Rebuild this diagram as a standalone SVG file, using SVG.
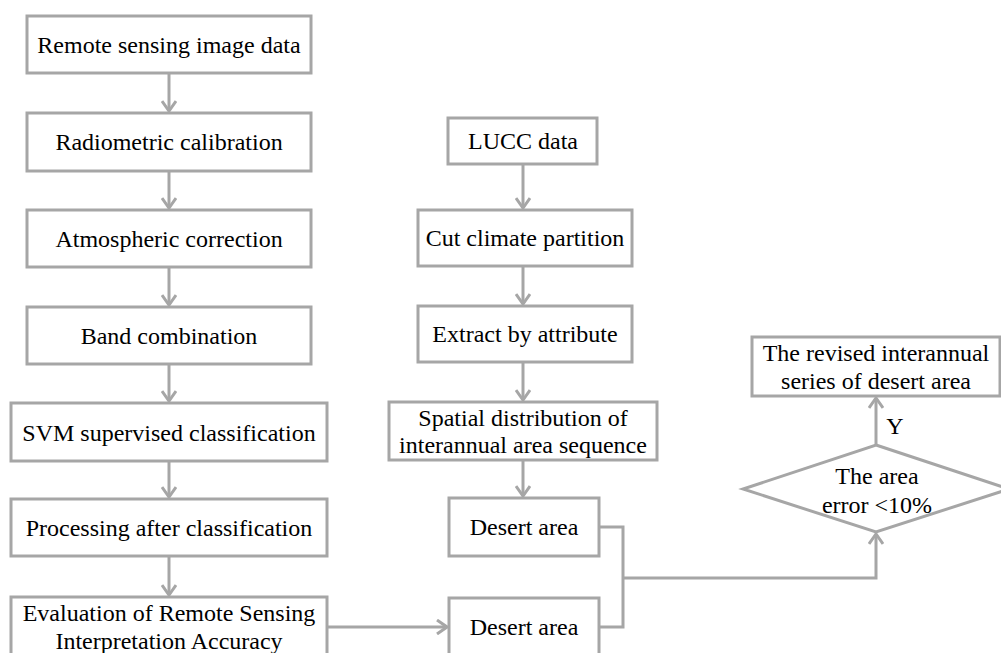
<svg xmlns="http://www.w3.org/2000/svg" width="1001" height="653" viewBox="0 0 1001 653">
<style>
.box{fill:#fff;stroke:#a6a6a6;stroke-width:3}
.t{font-family:"Liberation Serif","Times New Roman",serif;font-size:24px;fill:#000;text-anchor:middle}
.c{fill:none;stroke:#a6a6a6;stroke-width:3}
</style>
<defs>
<marker id="ah" viewBox="0 0 12 16" refX="11" refY="8" markerWidth="12" markerHeight="16" markerUnits="userSpaceOnUse" orient="auto">
<path d="M1,1 L11,8 L1,15" fill="none" stroke="#a6a6a6" stroke-width="3"/>
</marker>
</defs>
<rect width="1001" height="653" fill="#fff"/>
<g id="connectors">
<line class="c" x1="169" y1="73" x2="169" y2="111" marker-end="url(#ah)"/>
<line class="c" x1="169" y1="171" x2="169" y2="208" marker-end="url(#ah)"/>
<line class="c" x1="169" y1="267" x2="169" y2="305" marker-end="url(#ah)"/>
<line class="c" x1="169" y1="364" x2="169" y2="401" marker-end="url(#ah)"/>
<line class="c" x1="169" y1="461" x2="169" y2="497" marker-end="url(#ah)"/>
<line class="c" x1="169" y1="556" x2="169" y2="595" marker-end="url(#ah)"/>
<line class="c" x1="523" y1="164" x2="523" y2="208" marker-end="url(#ah)"/>
<line class="c" x1="523" y1="266" x2="523" y2="304" marker-end="url(#ah)"/>
<line class="c" x1="523" y1="362" x2="523" y2="400" marker-end="url(#ah)"/>
<line class="c" x1="523" y1="460" x2="523" y2="496" marker-end="url(#ah)"/>
<line class="c" x1="327" y1="627" x2="447" y2="627" marker-end="url(#ah)"/>
<polyline class="c" points="599,527 623,527 623,627 599,627"/>
<polyline class="c" points="623,578 876,578 876,534" marker-end="url(#ah)"/>
<line class="c" x1="876" y1="445" x2="876" y2="398" marker-end="url(#ah)"/>
<text class="t" x="895" y="434">Y</text>
</g>
<g id="n1"><rect class="box" x="27" y="16" width="284" height="57"/><text class="t" x="169" y="53">Remote sensing image data</text></g>
<g id="n2"><rect class="box" x="27" y="113" width="284" height="58"/><text class="t" x="169" y="150">Radiometric calibration</text></g>
<g id="n3"><rect class="box" x="27" y="210" width="284" height="57"/><text class="t" x="169" y="247">Atmospheric correction</text></g>
<g id="n4"><rect class="box" x="27" y="307" width="284" height="57"/><text class="t" x="169" y="344">Band combination</text></g>
<g id="n5"><rect class="box" x="11" y="403" width="316" height="58"/><text class="t" x="169" y="441">SVM supervised classification</text></g>
<g id="n6"><rect class="box" x="11" y="499" width="316" height="57"/><text class="t" x="169" y="536">Processing after classification</text></g>
<g id="n7"><rect class="box" x="11" y="597" width="316" height="70"/><text class="t" x="169" y="621">Evaluation of Remote Sensing</text><text class="t" x="169" y="649">Interpretation Accuracy</text></g>
<g id="m1"><rect class="box" x="448" y="118" width="149" height="46"/><text class="t" x="523" y="149">LUCC data</text></g>
<g id="m2"><rect class="box" x="418" y="210" width="214" height="56"/><text class="t" x="525" y="246">Cut climate partition</text></g>
<g id="m3"><rect class="box" x="418" y="306" width="214" height="56"/><text class="t" x="525" y="342">Extract by attribute</text></g>
<g id="m4"><rect class="box" x="389" y="402" width="268" height="58"/><text class="t" x="523" y="426">Spatial distribution of</text><text class="t" x="523" y="453">interannual area sequence</text></g>
<g id="d1"><rect class="box" x="449" y="498" width="150" height="58"/><text class="t" x="524" y="535">Desert area</text></g>
<g id="d2"><rect class="box" x="449" y="598" width="150" height="70"/><text class="t" x="524" y="635">Desert area</text></g>
<g id="diamond"><polygon class="box" points="876,445 1009,489 876,532 743,489"/><text class="t" x="877" y="484">The area</text><text class="t" x="877" y="513">error &lt;10%</text></g>
<g id="result"><rect class="box" x="752" y="337" width="248" height="59"/><text class="t" x="876" y="361">The revised interannual</text><text class="t" x="876" y="389">series of desert area</text></g>
</svg>
